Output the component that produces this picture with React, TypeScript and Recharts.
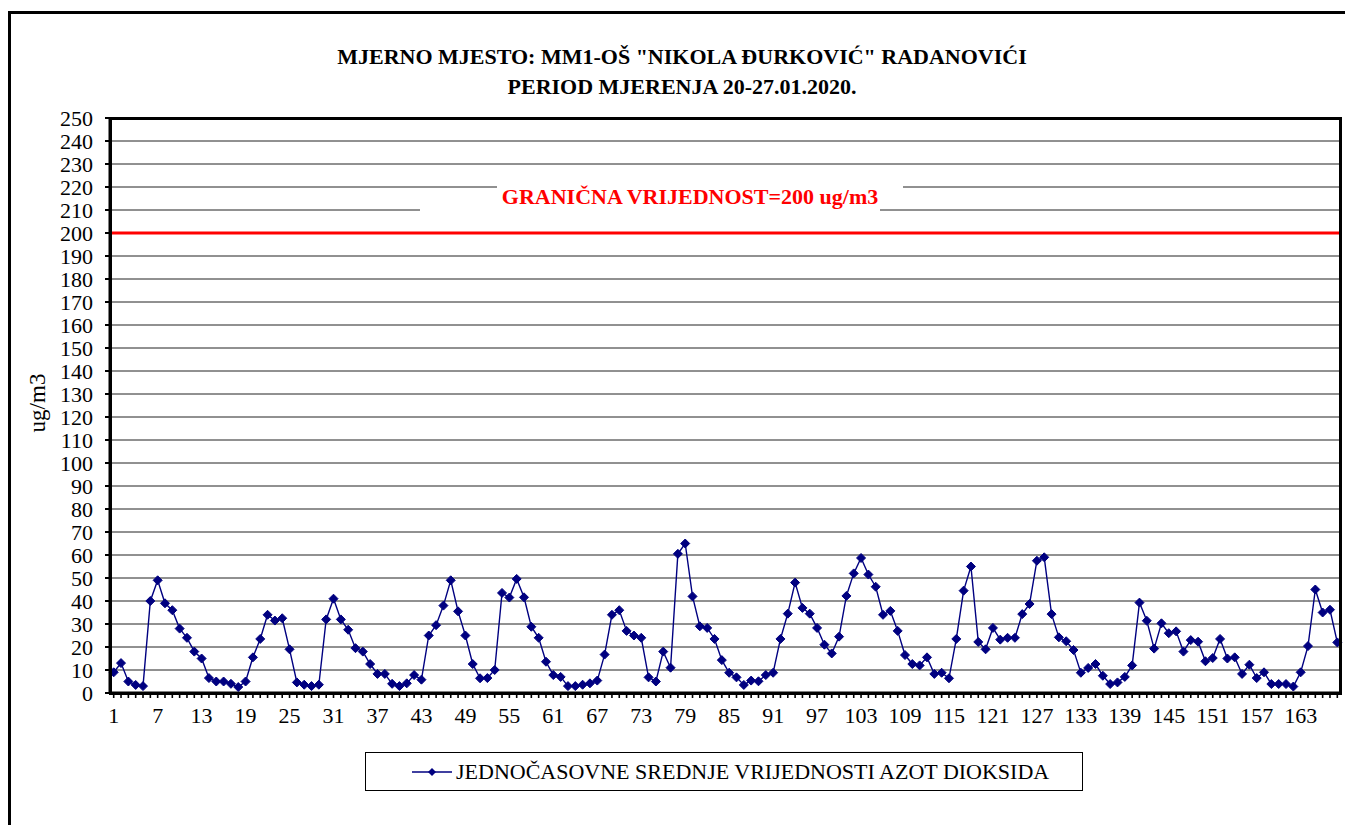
import { LineChart, Line, XAxis, YAxis, CartesianGrid, ReferenceLine } from "recharts";

// hourly NO2 means, 20-27.01.2020 (168 hours)
const hours = Array.from({ length: 168 }, (_, i) => i + 1);

const no2 = [
  9, 13, 5, 3.5, 3, 40, 49, 39, 36, 28, 24, 18, 15, 6.5, 5, 5, 4, 2.6, 5, 15.5,
  23.5, 34, 31.5, 32.5, 19, 4.6, 3.6, 3, 3.6, 32, 41, 32, 27.5, 19.5, 18, 12.6, 8.3, 8.3, 4, 3,
  4.2, 7.8, 5.8, 25, 29.5, 38, 49, 35.5, 25, 12.6, 6.4, 6.5, 10, 43.5, 41.5, 49.6, 41.6, 28.8, 24, 13.6,
  7.8, 7, 3, 3, 3.6, 4.2, 5.4, 16.7, 34, 36, 27, 25, 24, 6.8, 5, 18, 11, 60.5, 65, 42,
  29, 28.3, 23.5, 14.3, 8.8, 6.8, 3.5, 5.4, 5.1, 7.8, 8.8, 23.5, 34.5, 48, 37, 34.5, 28.3, 21, 17.2, 24.5,
  42.2, 52, 58.7, 51.5, 46.2, 34, 35.7, 27, 16.5, 12.6, 12, 15.5, 8.3, 8.8, 6.4, 23.5, 44.5, 55, 22.2, 19,
  28.3, 23.2, 24, 24, 34.3, 38.7, 57.5, 59, 34.3, 24.2, 22.5, 18.7, 8.8, 10.9, 12.6, 7.5, 3.9, 4.6, 7, 12,
  39.3, 31.4, 19.3, 30.3, 26, 26.8, 18, 23, 22.3, 13.8, 15.2, 23.5, 15, 15.5, 8.3, 12.3, 6.5, 9, 3.9, 3.9,
  3.9, 2.8, 9, 20.4, 45, 35, 36.2, 22,
];

const yTicks = [0, 10, 20, 30, 40, 50, 60, 70, 80, 90, 100, 110, 120, 130, 140, 150, 160, 170, 180, 190, 200, 210, 220, 230, 240, 250];
const limit = 200;

const title1 = 'MJERNO MJESTO: MM1-OŠ "NIKOLA ĐURKOVIĆ" RADANOVIĆI';
const title2 = "PERIOD MJERENJA 20-27.01.2020.";
const limitLabel = "GRANIČNA VRIJEDNOST=200 ug/m3";
const seriesName = "JEDNOČASOVNE SREDNJE VRIJEDNOSTI AZOT DIOKSIDA";

const data = hours.map((h, i) => ({ hour: h, value: no2[i] }));

const FONT = "Liberation Serif, DejaVu Serif, serif";
const NAVY = "#000080";

function Diamond(props: any) {
  const { cx, cy, index } = props;
  if (cx == null || cy == null) return <g key={`d-${index}`} />;
  const r = 4.5;
  return (
    <polygon
      key={`d-${index}`}
      points={`${cx},${cy - r} ${cx + r},${cy} ${cx},${cy + r} ${cx - r},${cy}`}
      fill={NAVY}
      stroke={NAVY}
    />
  );
}

function HourTick(props: any) {
  const { x, y, payload } = props;
  if ((payload.value - 1) % 6 !== 0) return <g />;
  return (
    <text x={x} y={y} dy="0.71em" textAnchor="middle" fill="#000" fontSize={22} style={{ fontFamily: FONT }}>
      {payload.value}
    </text>
  );
}

export default function App() {
  return (
    <div style={{ position: "absolute", left: 0, top: 0, width: 1345, height: 825, overflow: "hidden", background: "#fff", fontFamily: FONT }}>
      {/* outer frame */}
      <div style={{ position: "absolute", left: 8, top: 11, width: 1400, height: 900, borderLeft: "3px solid #000", borderTop: "3px solid #000" }} />

      <div style={{ position: "absolute", left: 182, top: 42, width: 1000, textAlign: "center", fontSize: 22, fontWeight: "bold", lineHeight: "30px", color: "#000", whiteSpace: "nowrap" }}>
        <div>{title1}</div>
        <div>{title2}</div>
      </div>

      <div style={{ position: "absolute", left: 0, top: 0 }}>
        <LineChart width={1345} height={825} data={data} margin={{ top: 118, right: 4, left: 10, bottom: 0 }}>
          <CartesianGrid vertical={false} stroke="#222" strokeWidth={1} />
          <XAxis
            dataKey="hour"
            type="category"
            interval={0}
            height={132}
            padding={{ left: 3.7, right: 3.7 }}
            tick={<HourTick />}
            tickSize={5}
            tickMargin={9}
            tickLine={{ stroke: "#000", strokeWidth: 1.6 }}
            axisLine={{ stroke: "#000", strokeWidth: 3 }}
          />
          <YAxis
            width={100}
            domain={[0, 250]}
            ticks={yTicks}
            interval={0}
            tickSize={5}
            tickMargin={12}
            tick={{ fill: "#000", fontSize: 22, style: { fontFamily: FONT } }}
            tickLine={{ stroke: "#000", strokeWidth: 2 }}
            axisLine={{ stroke: "#000", strokeWidth: 3 }}
          />
          <ReferenceLine y={limit} stroke="#ff0000" strokeWidth={3} />
          <Line
            dataKey="value"
            stroke={NAVY}
            strokeWidth={1.4}
            dot={Diamond}
            activeDot={false}
            isAnimationActive={false}
          />
        </LineChart>
      </div>

      {/* plot frame */}
      <div style={{ position: "absolute", left: 108.5, top: 116.5, width: 1233, height: 578, border: "3px solid #000", boxSizing: "border-box", pointerEvents: "none" }} />

      {/* limit label */}
      <div style={{ position: "absolute", left: 420, top: 199, width: 460, height: 14, background: "#fff" }} />
      <div style={{ position: "absolute", left: 497, top: 183, width: 406, height: 17, background: "#fff" }} />
      <div style={{ position: "absolute", left: 440, top: 183, width: 500, height: 28, color: "#ff0000", fontWeight: "bold", fontSize: 22, lineHeight: "28px", textAlign: "center", whiteSpace: "nowrap" }}>
        {limitLabel}
      </div>

      {/* y label */}
      <div style={{ position: "absolute", left: 38, top: 403, transform: "translate(-50%, -50%) rotate(-90deg)", fontSize: 23, whiteSpace: "nowrap" }}>
        ug/m3
      </div>

      {/* legend */}
      <div style={{ position: "absolute", left: 365, top: 752, width: 718, height: 39, border: "1px solid #000", boxSizing: "border-box", display: "flex", alignItems: "center" }}>
        <svg width={40} height={12} style={{ marginLeft: 46, marginRight: 4 }}>
          <line x1={0} y1={6} x2={40} y2={6} stroke={NAVY} strokeWidth={1.5} />
          <polygon points="20,2 24,6 20,10 16,6" fill={NAVY} />
        </svg>
        <span style={{ fontSize: 22, whiteSpace: "nowrap" }}>{seriesName}</span>
      </div>
    </div>
  );
}
